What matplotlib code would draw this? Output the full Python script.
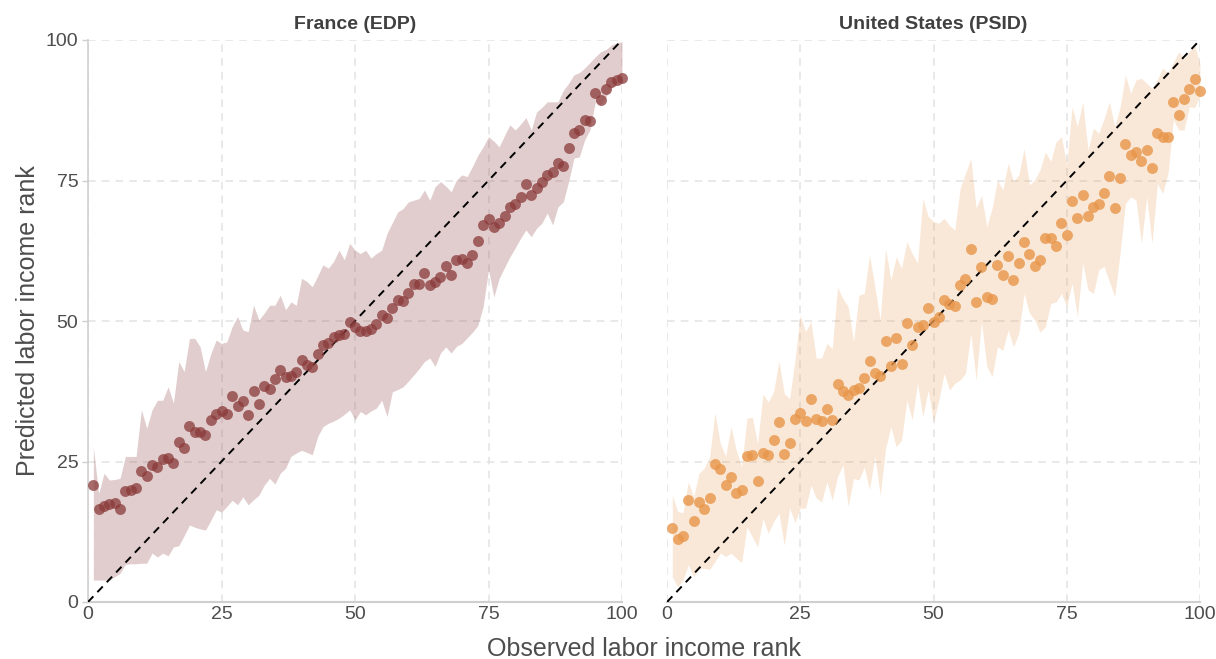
import numpy as np
import matplotlib
matplotlib.use("Agg")
import matplotlib.pyplot as plt

plt.rcParams['font.family'] = ['Liberation Sans', 'DejaVu Sans']

ranks = list(range(1, 101))

# France (EDP)
fr_pred = [20.9, 16.5, 17.1, 17.4, 17.7, 16.5, 19.7, 20.0, 20.3, 23.3,
           22.4, 24.3, 24.1, 25.4, 25.6, 24.7, 28.4, 27.4, 31.4, 30.2,
           30.2, 29.8, 32.4, 33.5, 34.0, 33.5, 36.7, 34.9, 35.7, 33.3,
           37.5, 35.2, 38.4, 37.9, 39.6, 41.2, 40.0, 40.3, 40.9, 43.0,
           42.2, 41.8, 44.2, 45.8, 46.1, 47.1, 47.5, 47.6, 49.8, 49.0,
           48.3, 48.3, 48.6, 49.5, 51.1, 50.6, 52.3, 53.7, 53.6, 55.0,
           56.6, 56.6, 58.5, 56.4, 56.9, 57.8, 59.8, 58.2, 60.8, 61.0,
           60.3, 61.7, 64.2, 67.0, 68.2, 66.8, 67.5, 68.7, 70.3, 70.9,
           72.1, 74.4, 72.4, 73.6, 74.7, 75.9, 76.5, 78.1, 77.6, 80.8,
           83.4, 83.9, 85.8, 85.6, 90.5, 89.3, 91.3, 92.6, 92.8, 93.2]
fr_upper = [27.6, 19.3, 22.9, 21.7, 21.8, 22.0, 25.9, 25.9, 25.9, 34.2,
            30.9, 34.2, 35.9, 35.9, 38.3, 35.4, 42.8, 41.0, 46.9, 46.9,
            45.4, 41.0, 44.2, 46.6, 46.0, 46.3, 49.0, 50.8, 48.4, 48.1,
            52.8, 50.2, 51.4, 52.8, 52.8, 54.6, 52.0, 53.4, 52.8, 57.6,
            57.0, 56.1, 58.0, 60.0, 59.4, 60.6, 62.6, 60.9, 63.8, 62.6,
            62.0, 62.6, 61.2, 62.0, 62.6, 65.6, 67.5, 69.4, 70.0, 71.2,
            71.5, 71.8, 73.3, 71.5, 73.9, 74.8, 74.0, 73.0, 75.1, 76.0,
            75.7, 77.5, 79.5, 81.0, 82.8, 82.0, 81.0, 83.0, 84.9, 84.0,
            85.0, 86.2, 84.0, 87.2, 88.0, 89.0, 89.0, 89.0, 91.0, 92.3,
            93.8, 94.2, 95.0, 96.0, 97.0, 97.9, 98.3, 99.1, 99.5, 99.7]
fr_lower = [3.9, 3.9, 3.9, 3.9, 4.5, 5.1, 6.7, 6.8, 6.8, 6.9,
            6.9, 8.7, 8.0, 8.7, 8.2, 9.8, 10.0, 11.8, 13.7, 13.3,
            13.0, 12.8, 14.5, 16.4, 16.0, 17.0, 18.1, 17.3, 18.7, 17.3,
            18.2, 19.0, 20.8, 22.0, 21.0, 22.9, 23.8, 25.9, 26.5, 27.0,
            26.6, 26.2, 29.4, 31.2, 31.8, 32.2, 32.7, 33.4, 34.2, 32.4,
            33.9, 33.3, 34.0, 34.5, 35.9, 33.0, 37.4, 37.8, 38.3, 39.3,
            40.4, 41.5, 42.8, 43.4, 41.9, 44.3, 45.4, 44.3, 45.5, 46.0,
            47.0, 48.0, 49.2, 52.6, 59.1, 54.3, 57.6, 59.5, 61.4, 63.0,
            64.7, 66.2, 65.0, 66.5, 67.4, 69.2, 67.1, 70.3, 71.2, 74.8,
            79.0, 79.2, 82.2, 84.0, 89.0, 88.4, 89.9, 91.4, 92.0, 92.9]

# United States (PSID)
us_pred = [13.2, 11.2, 11.7, 18.1, 14.4, 17.8, 16.5, 18.5, 24.5, 23.6,
           20.8, 22.3, 19.4, 19.9, 26.0, 26.1, 21.5, 26.5, 26.1, 28.8,
           32.0, 26.3, 28.3, 32.5, 33.6, 32.2, 36.1, 32.6, 32.2, 34.3,
           32.4, 38.8, 37.6, 36.8, 37.7, 38.1, 39.8, 42.8, 40.7, 40.2,
           46.4, 42.0, 46.9, 42.3, 49.7, 45.8, 49.0, 49.2, 52.3, 49.8,
           50.7, 53.7, 53.0, 52.7, 56.4, 57.5, 62.8, 53.4, 59.6, 54.3,
           54.0, 60.0, 58.1, 61.6, 57.3, 60.3, 64.1, 61.9, 59.8, 60.9,
           64.7, 64.7, 63.3, 67.4, 65.3, 71.3, 68.4, 72.4, 68.7, 70.3,
           70.9, 72.8, 75.8, 70.1, 75.4, 81.5, 79.5, 80.1, 78.5, 80.4,
           77.3, 83.5, 82.7, 82.7, 89.0, 86.7, 89.5, 91.2, 93.0, 90.9]
us_upper = [19.0, 16.1, 15.9, 21.4, 18.7, 22.9, 23.8, 25.9, 33.7, 28.2,
            25.9, 31.2, 27.0, 24.1, 32.7, 32.9, 28.2, 37.0, 35.6, 37.4,
            42.9, 37.1, 36.2, 43.0, 51.1, 48.1, 49.9, 43.4, 43.4, 46.0,
            45.1, 56.0, 54.0, 52.5, 46.3, 54.6, 54.9, 61.7, 56.1, 50.2,
            62.9, 57.3, 61.4, 59.4, 64.1, 62.0, 60.3, 71.8, 68.6, 67.7,
            67.4, 68.3, 67.0, 66.2, 73.6, 76.3, 78.9, 70.1, 72.4, 66.8,
            70.1, 75.1, 73.3, 78.1, 74.8, 76.0, 80.7, 74.2, 75.1, 77.0,
            80.1, 78.4, 81.9, 82.8, 77.8, 88.1, 84.6, 89.0, 80.4, 84.3,
            83.4, 86.0, 89.0, 84.6, 88.0, 93.8, 90.5, 92.9, 93.2, 92.3,
            91.4, 93.0, 95.0, 94.1, 96.0, 97.9, 96.7, 98.0, 99.1, 95.8]
us_lower = [4.5, 2.7, 3.9, 6.6, 4.5, 6.0, 6.0, 5.8, 7.2, 8.7,
            8.1, 8.7, 7.8, 7.0, 13.4, 11.6, 9.8, 14.9, 12.2, 14.3,
            15.8, 10.1, 16.7, 14.1, 16.7, 16.7, 20.8, 18.5, 17.8, 21.4,
            18.1, 22.3, 24.4, 17.0, 22.0, 21.7, 24.0, 20.0, 26.0, 19.0,
            27.3, 31.2, 27.6, 28.8, 35.9, 32.4, 38.9, 33.0, 37.7, 32.1,
            35.9, 40.7, 37.7, 38.9, 39.5, 40.7, 47.8, 39.5, 49.9, 41.9,
            40.1, 45.4, 44.8, 48.4, 45.4, 47.8, 54.9, 51.4, 50.2, 48.0,
            49.0, 53.1, 53.4, 54.9, 52.5, 56.7, 50.8, 60.3, 55.5, 54.9,
            59.1, 59.7, 57.0, 54.3, 62.0, 70.9, 72.1, 71.5, 63.8, 72.1,
            63.8, 74.5, 72.7, 76.3, 85.8, 84.0, 84.0, 88.1, 88.0, 90.0]

panels = [
    ("France (EDP)", fr_pred, fr_lower, fr_upper, "#8B3A3A", 0.25, 0.75),
    ("United States (PSID)", us_pred, us_lower, us_upper, "#E8964A", 0.22, 0.8),
]

W, H = 1216, 659
fig = plt.figure(figsize=(W / 100, H / 100), dpi=100)
ax_l = fig.add_axes([88 / W, (H - 602) / H, 534 / W, 562 / H])
ax_r = fig.add_axes([667 / W, (H - 602) / H, 533 / W, 562 / H])

ticks = [0, 25, 50, 75, 100]
for ax, (title, pred, lo, up, col, a, pa) in zip([ax_l, ax_r], panels):
    ax.fill_between(ranks, lo, up, color=col, alpha=a, linewidth=0, zorder=1)
    ax.plot([0, 100], [0, 100], color="black", linestyle=(0, (4, 3)),
            linewidth=1.4, zorder=3)
    ax.scatter(ranks, pred, s=62, color=col, alpha=pa, linewidths=0,
               zorder=4, clip_on=False)
    ax.set_xlim(0, 100)
    ax.set_ylim(0, 100)
    ax.set_xticks(ticks)
    ax.set_yticks(ticks)
    ax.grid(True, color="#e3e3e3", linestyle=(0, (5, 4)), linewidth=1.1, zorder=0)
    ax.set_axisbelow(True)
    for s in ["top", "right"]:
        ax.spines[s].set_visible(False)
    ax.spines["bottom"].set_color("#cfcfcf")
    ax.spines["bottom"].set_linewidth(1.5)
    ax.spines["left"].set_color("#cfcfcf")
    ax.spines["left"].set_linewidth(1.2)
    ax.tick_params(axis="both", labelsize=14, labelcolor="#4d4d4d",
                   color="#cfcfcf", length=0, pad=3)
    ax.set_title(title, fontsize=14, fontweight="bold", color="#404040", pad=8)

ax_l.tick_params(axis="y", length=4, width=1)
ax_r.spines["left"].set_visible(False)
ax_r.tick_params(axis="y", labelleft=False)

ax_l.set_ylabel("Predicted labor income rank", fontsize=18, color="#4d4d4d")
fig.text(644 / W, 1 - 656 / H, "Observed labor income rank", fontsize=18,
         color="#4d4d4d", ha="center", va="baseline")

fig.savefig("out.png", dpi=100)
